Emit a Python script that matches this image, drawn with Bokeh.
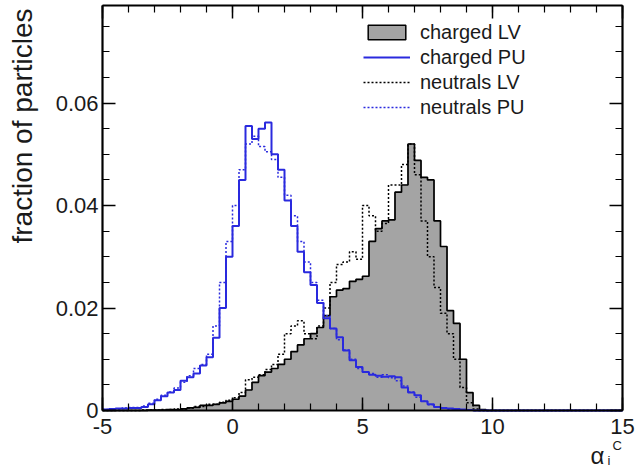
import math
from bokeh.plotting import figure
from bokeh.models import (Range1d, FixedTicker, LinearAxis, Legend, LegendItem, Label)
from bokeh.embed import file_html
from bokeh.resources import INLINE

# ---------------- data (bin width 0.25, left edges from -5) ----------------
X_MIN, X_MAX, BIN_W = -5.0, 15.0, 0.25
X_TICKS = [-5, 0, 5, 10, 15]
X_TICK_LABELS = ["-5", "0", "5", "10", "15"]
Y_TICKS = [0, 0.02, 0.04, 0.06]
Y_TICK_LABELS = ["0", "0.02", "0.04", "0.06"]

# bins from -5.0 to 9.75 (remaining bins up to 15 are empty)
charged_PU = [0.0002, 0.0003, 0.0004, 0.0004, 0.0005, 0.0005, 0.0007, 0.0012,
              0.0020, 0.0028, 0.0035, 0.0040, 0.0058, 0.0065, 0.0072, 0.0088,
              0.0104, 0.0142, 0.0200, 0.0300, 0.0360, 0.0450, 0.0555, 0.0530,
              0.0550, 0.0562, 0.0500, 0.0470, 0.0410, 0.0360, 0.0310, 0.0270,
              0.0245, 0.0210, 0.0180, 0.0160, 0.0143, 0.0117, 0.0098, 0.0085,
              0.0075, 0.0070, 0.0068, 0.0066, 0.0067, 0.0065, 0.0045, 0.0035,
              0.0030, 0.0018, 0.0012, 0.0007, 0.0005, 0.0004, 0.0003, 0.0002,
              0.0001, 0.0, 0.0, 0.0]
neutrals_PU = [0.0002, 0.0003, 0.0003, 0.0005, 0.0006, 0.0006, 0.0009, 0.0014,
               0.0022, 0.0030, 0.0036, 0.0044, 0.0055, 0.0068, 0.0082, 0.0090,
               0.0110, 0.0165, 0.0250, 0.0330, 0.0400, 0.0470, 0.0520, 0.0535,
               0.0515, 0.0505, 0.0490, 0.0455, 0.0420, 0.0380, 0.0330, 0.0290,
               0.0250, 0.0215, 0.0185, 0.0160, 0.0138, 0.0118, 0.0100, 0.0082,
               0.0075, 0.0072, 0.0065, 0.0070, 0.0064, 0.0058, 0.0048, 0.0036,
               0.0026, 0.0018, 0.0011, 0.0007, 0.0005, 0.0003, 0.0002, 0.0001,
               0.0001, 0.0, 0.0, 0.0]
charged_LV = [0.0, 0.0, 0.0, 0.0, 0.0, 0.0, 0.0, 0.0001,
              0.0001, 0.0001, 0.0002, 0.0002, 0.0003, 0.0005, 0.0006, 0.0010,
              0.0010, 0.0012, 0.0015, 0.0018, 0.0022, 0.0028, 0.0040, 0.0055,
              0.0068, 0.0075, 0.0082, 0.0090, 0.0100, 0.0115, 0.0128, 0.0140,
              0.0150, 0.0162, 0.0185, 0.0222, 0.0235, 0.0238, 0.0252, 0.0256,
              0.0262, 0.0330, 0.0355, 0.0370, 0.0372, 0.0426, 0.0440, 0.0520,
              0.0488, 0.0455, 0.0450, 0.0370, 0.0320, 0.0195, 0.0170, 0.0100,
              0.0035, 0.0010, 0.0002, 0.0]
neutrals_LV = [0.0, 0.0, 0.0, 0.0, 0.0, 0.0, 0.0001, 0.0001,
               0.0001, 0.0002, 0.0002, 0.0003, 0.0003, 0.0005, 0.0008, 0.0008,
               0.0012, 0.0012, 0.0016, 0.0020, 0.0025, 0.0035, 0.0060, 0.0065,
               0.0070, 0.0080, 0.0090, 0.0110, 0.0150, 0.0165, 0.0175, 0.0150,
               0.0140, 0.0165, 0.0200, 0.0250, 0.0285, 0.0290, 0.0310, 0.0295,
               0.0400, 0.0380, 0.0350, 0.0365, 0.0440, 0.0440, 0.0480, 0.0520,
               0.0460, 0.0370, 0.0300, 0.0240, 0.0190, 0.0150, 0.0100, 0.0045,
               0.0015, 0.0003, 0.0, 0.0]

N_BINS = int(round((X_MAX - X_MIN) / BIN_W))
edges = [X_MIN + BIN_W * i for i in range(N_BINS + 1)]


def full(vals):
    return list(vals) + [0.0] * (N_BINS - len(vals))


cLV, nLV, cPU, nPU = full(charged_LV), full(neutrals_LV), full(charged_PU), full(neutrals_PU)

# ---------------- layout geometry (pixels) ----------------
W, H = 635, 470
PX_LEFT, PX_BOTTOM, PX_RIGHT, PX_TOP = 102, 410, 622, 5   # the box of the axes
SX = (PX_RIGHT - PX_LEFT) / (X_MAX - X_MIN)               # px per x unit
SY = 5125.0                                              # px per y unit
Y_TOP = (PX_BOTTOM - PX_TOP) / SY


def dx(px):
    return X_MIN + (px - PX_LEFT) / SX


def dy(py):
    return (PX_BOTTOM - py) / SY


FONT = "Liberation Sans"
TXT = "#1a1a1a"
GRAY = "#a4a4a4"
BLUE = "#2a2ade"

p = figure(width=W, height=H, output_backend="svg", toolbar_location=None,
           x_range=Range1d(dx(0), dx(W)), y_range=Range1d(dy(H), dy(0)),
           x_axis_type=None, y_axis_type=None,
           min_border=0, min_border_left=0, min_border_right=0,
           min_border_top=0, min_border_bottom=0)
p.background_fill_color = "white"
p.border_fill_color = "white"
p.outline_line_color = None
p.xgrid.visible = False
p.ygrid.visible = False

# gray filled charged LV
p.quad(left=edges[:-1], right=edges[1:], bottom=0, top=cLV,
       fill_color=GRAY, line_color=GRAY, line_width=1)


def step(vals, **kw):
    return p.step(x=edges, y=vals + [vals[-1]], mode="after", **kw)


r_clv = step(cLV, line_color="black", line_width=1.7)
r_nlv = step(nLV, line_color="black", line_width=1.5, line_dash="2 2")
r_cpu = step(cPU, line_color=BLUE, line_width=2)
r_npu = step(nPU, line_color=BLUE, line_width=1.5, line_dash="2 2")

# legend-only box renderer (a zero-size box at the origin of the histogram)
r_box = p.quad(left=[edges[0]], right=[edges[0]], top=[0.0], bottom=[0.0], fill_color=GRAY,
               line_color="black", line_width=1.5)

# ---------------- axes (box with inward ticks on all four sides) ----------------
xt = FixedTicker(ticks=X_TICKS, minor_ticks=list(range(-5, 16)))
yt = FixedTicker(ticks=Y_TICKS, minor_ticks=[round(0.005 * k, 4) for k in range(16)])

bottom_ax = LinearAxis(ticker=xt, fixed_location=0, bounds=(X_MIN, X_MAX),
                       major_label_overrides=dict(zip(X_TICKS, X_TICK_LABELS)))
left_ax = LinearAxis(ticker=yt, fixed_location=X_MIN, bounds=(0, Y_TOP),
                     major_label_overrides=dict(zip(Y_TICKS, Y_TICK_LABELS)))
top_ax = LinearAxis(ticker=xt, fixed_location=Y_TOP, bounds=(X_MIN, X_MAX),
                    major_label_overrides={t: "" for t in X_TICKS})
right_ax = LinearAxis(ticker=yt, fixed_location=X_MAX, bounds=(0, Y_TOP),
                      major_label_overrides={t: "" for t in Y_TICKS})
p.add_layout(bottom_ax, "below")
p.add_layout(left_ax, "left")
p.add_layout(top_ax, "above")
p.add_layout(right_ax, "right")

for ax in [bottom_ax, left_ax, top_ax, right_ax]:
    ax.axis_line_color = "black"
    ax.axis_line_width = 2.2
    ax.major_tick_in = 13
    ax.major_tick_out = 0
    ax.minor_tick_in = 7
    ax.minor_tick_out = 0
    ax.major_tick_line_width = 1.5
    ax.minor_tick_line_width = 1.2
    ax.major_label_text_font = FONT
    ax.major_label_text_color = TXT
    ax.major_label_text_font_size = "22px"

for ax in [top_ax, right_ax]:
    ax.major_label_text_font_size = "0px"
    ax.major_label_standoff = 0

bottom_ax.major_label_standoff = 8
left_ax.major_label_standoff = 4

# axis titles
p.add_layout(Label(x=dx(22), y=dy(8), angle=math.pi / 2,
                   text="fraction of particles", text_align="right", text_baseline="middle",
                   text_font=FONT, text_font_size="28px", text_color=TXT))
p.add_layout(Label(x=dx(590), y=dy(455), text="α",
                   text_align="left", text_baseline="alphabetic",
                   text_font=FONT, text_font_size="24px", text_color=TXT))
p.add_layout(Label(x=dx(607), y=dy(460), text="i",
                   text_align="left", text_baseline="alphabetic",
                   text_font=FONT, text_font_size="13px", text_color=TXT))
p.add_layout(Label(x=dx(612), y=dy(445), text="C",
                   text_align="left", text_baseline="alphabetic",
                   text_font=FONT, text_font_size="13px", text_color=TXT))

# legend
legend = Legend(items=[LegendItem(label="charged LV", renderers=[r_box]),
                       LegendItem(label="charged PU", renderers=[r_cpu]),
                       LegendItem(label="neutrals LV", renderers=[r_nlv]),
                       LegendItem(label="neutrals PU", renderers=[r_npu])],
                location=(363, H - 119), glyph_width=47, glyph_height=18, label_height=24,
                spacing=1, padding=0, margin=0, border_line_color=None,
                background_fill_alpha=0, label_standoff=10,
                label_text_font=FONT, label_text_font_size="20px",
                label_text_color=TXT)
p.add_layout(legend)

open("out.html", "w").write(file_html(p, INLINE))
